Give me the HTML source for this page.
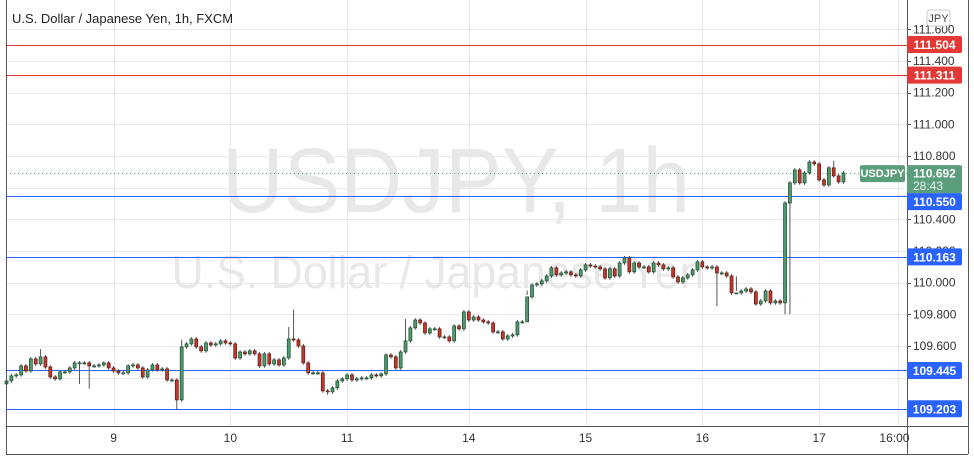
<!DOCTYPE html>
<html><head><meta charset="utf-8"><style>
body{margin:0;background:#fff;width:974px;height:461px;overflow:hidden;font-family:"Liberation Sans",sans-serif}
svg text{font-family:"Liberation Sans",sans-serif}
</style></head><body>
<svg id="chart" width="974" height="461" xmlns="http://www.w3.org/2000/svg">
<rect x="0" y="0" width="974" height="461" fill="#fff"/>
<g id="grid"></g>
<text x="456" y="212" font-size="92" fill="#e8e8e8" text-anchor="middle" textLength="468" lengthAdjust="spacingAndGlyphs">USDJPY, 1h</text>
<text x="438" y="288" font-size="46" fill="#e8e8e8" text-anchor="middle" textLength="533" lengthAdjust="spacingAndGlyphs">U.S. Dollar / Japanese Yen</text>
<g id="levels"></g>
<g id="candles"></g>
<g id="axes"></g>
<text x="12" y="23" font-size="13" fill="#222">U.S. Dollar / Japanese Yen, 1h, FXCM</text>
<rect x="927" y="10" width="23" height="16" rx="3" fill="#fff" stroke="#ccc"/>
<text x="938.5" y="22" font-size="11" fill="#444" text-anchor="middle">JPY</text>
</svg>
<script>
const closes=[109.379,109.411,109.417,109.474,109.442,109.518,109.486,109.531,109.467,109.404,109.392,109.436,109.436,109.461,109.493,109.493,109.493,109.474,109.474,109.480,109.493,109.461,109.442,109.430,109.430,109.474,109.480,109.461,109.404,109.449,109.480,109.449,109.455,109.385,109.385,109.259,109.594,109.613,109.644,109.594,109.569,109.619,109.606,109.613,109.632,
109.619,109.613,109.524,109.562,109.550,109.569,109.550,109.474,109.550,109.486,109.512,109.480,109.524,109.644,109.638,109.600,109.493,109.430,109.430,109.430,109.316,109.310,109.335,109.379,109.392,109.417,109.385,109.392,109.398,109.398,109.417,109.411,109.423,109.543,109.531,109.461,109.562,109.632,109.714,109.764,109.745,109.682,109.708,109.708,109.657,109.657,
109.632,109.726,109.708,109.815,109.764,109.783,109.764,109.752,109.745,109.689,109.689,109.644,109.663,109.670,109.752,109.752,109.910,109.985,109.992,110.011,110.042,110.093,110.049,110.061,110.068,110.049,110.042,110.080,110.112,110.105,110.099,110.087,110.030,110.087,110.042,110.124,110.156,110.068,110.124,110.099,110.099,110.068,110.124,110.112,110.087,110.093,
110.036,110.004,110.030,110.049,110.080,110.131,110.099,110.093,110.099,110.061,110.061,110.042,109.935,109.935,109.947,109.960,109.941,109.865,109.884,109.947,109.872,109.884,109.872,110.503,110.630,110.712,110.630,110.693,110.762,110.750,110.649,110.617,110.725,110.674,110.636,110.693];
const firstOpen=109.36;
const longHighIdx=[7,36,58,59,82,170];
const longHighVal=[109.58,109.64,109.72,109.83,109.77,110.77];
const longLowIdx=[15,17,35,66,107,150,160,161,146];
const longLowVal=[109.36,109.33,109.20,109.29,109.95,110.04,109.80,109.80,109.85];
const levelPrices=[111.504,111.311,110.550,110.163,109.445,109.203];
const levelColors=['#e53935','#e53935','#2962ff','#2962ff','#2962ff','#2962ff'];
const tickPrices=[111.6,111.4,111.2,111.0,110.8,110.6,110.4,110.2,110.0,109.8,109.6,109.4];
const tickShown=[1,1,1,1,1,0,1,1,1,1,1,0];
const dayLabels=['9','10','11','14','15','16','17','16:00'];
const dayIndex=[22,46,70,95,119,143,167,183.3];
const lastPrice=110.692;

const NS='http://www.w3.org/2000/svg';
const L=6,R=907,T=0,B=426;
const y=v=>61+(111.4-v)*158.3;
const x=i=>6.5+i*4.866;
function mk(tag,attrs,parent){const e=document.createElementNS(NS,tag);for(const k in attrs)e.setAttribute(k,attrs[k]);parent.appendChild(e);return e;}
const grid=document.getElementById('grid'),lv=document.getElementById('levels'),cg=document.getElementById('candles'),ax=document.getElementById('axes');

tickPrices.forEach(p=>{const l=mk('rect',{x:L,width:R-L,y:Math.round(y(p)),height:1,fill:'#e9e9e9'},grid);

});
dayIndex.forEach(d=>{const l=mk('rect',{x:Math.round(x(d)),width:1,y:T,height:B-T,fill:'#e9e9e9'},grid);

});

levelPrices.forEach((p,i)=>{const l=mk('rect',{x:L,width:R-L,y:Math.round(y(p)),height:1,fill:levelColors[i]},lv);

});
const pl=mk('line',{x1:L,x2:R,y1:Math.round(y(lastPrice))+0.5,y2:Math.round(y(lastPrice))+0.5,stroke:'#5b9e7c','stroke-dasharray':'1,3'},lv);



closes.forEach((c,i)=>{const o=i?closes[i-1]:firstOpen;
let hi=Math.max(o,c)+0.012,lo=Math.min(o,c)-0.012;
const hk=longHighIdx.indexOf(i);if(hk>=0)hi=longHighVal[hk];
const lk=longLowIdx.indexOf(i);if(lk>=0)lo=longLowVal[lk];
const up=c>=o,cx=x(i);
const w=mk('line',{x1:cx,x2:cx,y1:y(hi),y2:y(lo),stroke:'#555','stroke-width':1},cg);


const top=y(Math.max(o,c)),h=Math.max(1,y(Math.min(o,c))-top);
const r=mk('rect',{x:cx-1.5,y:top,width:3,height:h,fill:up?'#4f9a6d':'#c0392b',stroke:up?'#1d4a30':'#5a1a14','stroke-width':0.7},cg);

});

[[L,0,1,454],[R,0,1,454],[L,B,962,1],[968,0,1,454],[L,454,962,1]].forEach(a=>{const l=mk('rect',{x:a[0],y:a[1],width:a[2],height:a[3],fill:'#555'},ax);

});
tickPrices.forEach((p,i)=>{if(!tickShown[i])return;
const t=mk('rect',{x:R,width:4,y:Math.round(y(p)),height:1,fill:'#555'},ax);


const tx=mk('text',{x:913,y:y(p)+4,'font-size':12,fill:'#333'},ax);tx.textContent=p.toFixed(3);

});
dayLabels.forEach((s,i)=>{const tx=mk('text',{x:x(dayIndex[i]),y:442,'font-size':12,fill:'#333','text-anchor':i==7?'end':'middle'},ax);
if(i==7)tx.setAttribute('x',x(dayIndex[i])+11);
tx.textContent=s;

});
const ly=y(lastPrice);
const b1=mk('rect',{x:860,y:ly-8,width:45,height:17,rx:2,fill:'#5b9e7c'},ax);


const t1=mk('text',{x:882.5,y:ly+4,'font-size':11,'font-weight':'bold',fill:'#fff','text-anchor':'middle'},ax);t1.textContent='USDJPY';


const b2=mk('rect',{x:R,y:ly-8,width:55,height:28,rx:2,fill:'#5b9e7c'},ax);


const t2=mk('text',{x:R+27.5,y:ly+4.5,'font-size':12,'font-weight':'bold',fill:'#fff','text-anchor':'middle'},ax);t2.textContent=lastPrice.toFixed(3);


const t3=mk('text',{x:R+21,y:ly+17,'font-size':12,fill:'#e8f3ec','text-anchor':'middle'},ax);t3.textContent='28:43';


const labelBottomLimit=ly+20;
levelPrices.forEach((p,i)=>{let top=y(p)-8.5;
if(top<labelBottomLimit&&top+17>ly-8)top=labelBottomLimit;
const r=mk('rect',{x:R,y:top,width:55,height:17,rx:2,fill:levelColors[i]},ax);


const tx=mk('text',{x:R+27.5,y:top+13,'font-size':12,'font-weight':'bold',fill:'#fff','text-anchor':'middle'},ax);tx.textContent=p.toFixed(3);

});
</script>
</body></html>
